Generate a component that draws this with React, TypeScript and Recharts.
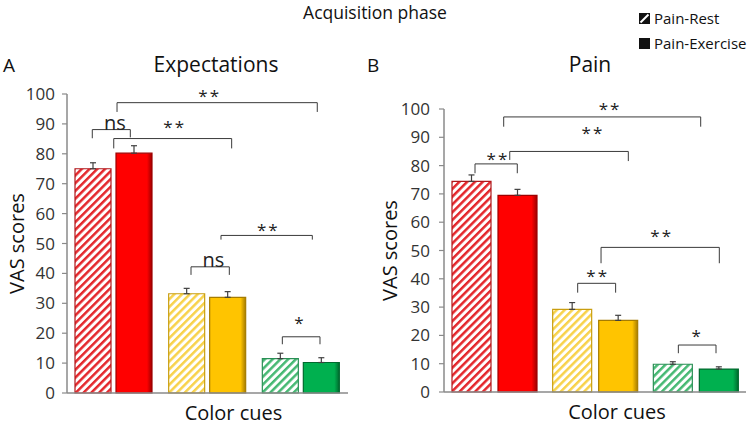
import React from 'react';
import { BarChart, Bar, XAxis, YAxis, Cell, ErrorBar, ReferenceLine, ReferenceDot, Label } from 'recharts';

// ---------- data ----------
const categories = ['Red', 'Yellow', 'Green'];
const yTicks = [0, 10, 20, 30, 40, 50, 60, 70, 80, 90, 100];

const expRest = [75, 33.2, 11.5];
const expRestErr = [2, 1.8, 1.8];
const expExercise = [80.2, 32, 10.2];
const expExerciseErr = [2.5, 1.9, 1.6];

const painRest = [74.4, 29.2, 9.8];
const painRestErr = [2.3, 2.4, 0.9];
const painExercise = [69.5, 25.3, 8.1];
const painExerciseErr = [2.1, 1.8, 0.8];

type Bracket = { x1: number; x2: number; y: number; y1: number; y2: number; text: string; tx: number; ty: number };

// bracket x in category units (0..3), y in VAS units
const expBrackets: Bracket[] = [
  { x1: 0.534, x2: 2.672, y: 97.1, y1: 94, y2: 94, text: '**', tx: 1.523, ty: 100.6 },
  { x1: 0.27, x2: 0.676, y: 88.1, y1: 85.2, y2: 85.5, text: 'ns', tx: 0.512, ty: 90.7 },
  { x1: 0.499, x2: 1.758, y: 85.1, y1: 81.8, y2: 81.8, text: '**', tx: 1.15, ty: 90.2 },
  { x1: 1.644, x2: 2.619, y: 52.7, y1: 51.3, y2: 51.3, text: '**', tx: 2.149, ty: 56 },
  { x1: 1.324, x2: 1.733, y: 42.2, y1: 39.5, y2: 39.5, text: 'ns', tx: 1.562, ty: 44.7 },
  { x1: 2.299, x2: 2.701, y: 18.8, y1: 16.3, y2: 16.3, text: '*', tx: 2.487, ty: 24.6 },
];

const painBrackets: Bracket[] = [
  { x1: 0.593, x2: 2.55, y: 97.2, y1: 93.75, y2: 93.75, text: '**', tx: 1.649, ty: 101.4 },
  { x1: 0.653, x2: 1.831, y: 85.0, y1: 82, y2: 81.6, text: '**', tx: 1.48, ty: 92.8 },
  { x1: 0.308, x2: 0.728, y: 80.6, y1: 77.3, y2: 77.3, text: '**', tx: 0.536, ty: 83.7 },
  { x1: 1.56, x2: 2.735, y: 51.1, y1: 45.5, y2: 45.5, text: '**', tx: 2.163, ty: 56.4 },
  { x1: 1.328, x2: 1.705, y: 38.4, y1: 35.1, y2: 35.1, text: '**', tx: 1.527, ty: 42.5 },
  { x1: 2.328, x2: 2.702, y: 16.6, y1: 13.7, y2: 13.7, text: '*', tx: 2.515, ty: 21.3 },
];

// ---------- styles ----------
const FONT = '"Open Sans", sans-serif';
const AXIS = '#8a8a8a';
const LINE = '#3a3a3a';
const palette = [
  { base: '#FF0000', dark: '#9E0000', stripe: '#E4262B', hatchStroke: '#B0181C' },
  { base: '#FFC400', dark: '#A67C00', stripe: '#F8D24A', hatchStroke: '#C99E10' },
  { base: '#00B04F', dark: '#006A2E', stripe: '#45B872', hatchStroke: '#2A8F55' },
];

const buildData = (rest: number[], restErr: number[], ex: number[], exErr: number[]) =>
  categories.map((c, i) => ({
    cue: c,
    rest: rest[i],
    restErr: [0, restErr[i]],
    exercise: ex[i],
    exerciseErr: [0, exErr[i]],
  }));

const expData = buildData(expRest, expRestErr, expExercise, expExerciseErr);
const painData = buildData(painRest, painRestErr, painExercise, painExerciseErr);

type PanelProps = {
  id: string;
  data: ReturnType<typeof buildData>;
  brackets: Bracket[];
  width: number;
  margin: { top: number; right: number; bottom: number; left: number };
  yAxisWidth: number;
  barSize: number;
  barGap: number;
  xAxisHeight: number;
  xTicks: boolean;
  yLabelOffset: number;
  xLabelDx: number;
  tickMargin: number;
};

function Panel(p: PanelProps) {
  const lines: React.ReactNode[] = [];
  p.brackets.forEach((b, i) => {
    const common = { xAxisId: 'u', stroke: LINE, strokeWidth: 1, ifOverflow: 'visible' as const };
    lines.push(<ReferenceLine key={`h${i}`} {...common} segment={[{ x: b.x1, y: b.y }, { x: b.x2, y: b.y }]} />);
    lines.push(<ReferenceLine key={`l${i}`} {...common} segment={[{ x: b.x1, y: b.y1 }, { x: b.x1, y: b.y }]} />);
    lines.push(<ReferenceLine key={`r${i}`} {...common} segment={[{ x: b.x2, y: b.y2 }, { x: b.x2, y: b.y }]} />);
    const star = b.text !== 'ns';
    lines.push(
      <ReferenceDot
        key={`t${i}`}
        xAxisId="u"
        x={b.tx}
        y={b.ty}
        r={0}
        fill="none"
        stroke="none"
        ifOverflow="visible"
        label={{
          value: b.text,
          position: 'center',
          dy: star ? 4 : 1,
          style: { fontSize: star ? 17 : 20, fill: '#222', fontFamily: FONT, letterSpacing: star ? 2 : 0 },
        }}
      />
    );
  });

  return (
    <BarChart
      width={p.width}
      height={426}
      data={p.data}
      margin={p.margin}
      barGap={p.barGap}
      barSize={p.barSize}
    >
      <defs>
        {palette.map((c, k) => (
          <pattern
            key={`hp${k}`}
            id={`${p.id}-hatch-${k}`}
            patternUnits="userSpaceOnUse"
            width={5.5}
            height={5.5}
            patternTransform="rotate(45)"
          >
            <rect width={5.5} height={5.5} fill="#ffffff" />
            <rect width={2.5} height={5.5} fill={c.stripe} />
          </pattern>
        ))}
        {palette.map((c, k) => (
          <linearGradient key={`sg${k}`} id={`${p.id}-solid-${k}`} x1="0" y1="0" x2="1" y2="0">
            <stop offset="0" stopColor={c.base} />
            <stop offset="0.86" stopColor={c.base} />
            <stop offset="1" stopColor={c.dark} />
          </linearGradient>
        ))}
      </defs>
      <XAxis
        xAxisId="u"
        dataKey="rest"
        type="number"
        domain={[0, 3]}
        ticks={[0, 1, 2, 3]}
        allowDataOverflow
        tick={false}
        tickLine={p.xTicks ? { stroke: AXIS, strokeWidth: 1.5 } : false}
        tickSize={5}
        axisLine={{ stroke: AXIS, strokeWidth: 1.5 }}
        height={p.xAxisHeight}
      >
        <Label
          value="Color cues"
          position="center"
          dx={p.xLabelDx}
          dy={3}
          style={{ fontSize: 20, fill: '#111', fontFamily: FONT }}
        />
      </XAxis>
      <XAxis dataKey="cue" hide height={0} />
      <YAxis
        domain={[0, 100]}
        ticks={yTicks}
        width={p.yAxisWidth}
        interval={0}
        tick={{ fill: '#333', fontSize: 17, fontFamily: FONT }}
        tickLine={{ stroke: AXIS, strokeWidth: 1.2 }}
        tickSize={5}
        tickMargin={p.tickMargin}
        axisLine={{ stroke: AXIS, strokeWidth: 1.5 }}
      >
        <Label
          value="VAS scores"
          angle={-90}
          position="insideLeft"
          offset={p.yLabelOffset}
          style={{ fontSize: 20, fill: '#111', fontFamily: FONT, textAnchor: 'middle' }}
        />
      </YAxis>
      <Bar dataKey="rest" isAnimationActive={false} strokeWidth={1.2}>
        {p.data.map((_, k) => (
          <Cell key={`r${k}`} fill={`url(#${p.id}-hatch-${k})`} stroke={palette[k].hatchStroke} />
        ))}
        <ErrorBar dataKey="restErr" width={3} stroke="#404040" strokeWidth={1.2} />
      </Bar>
      <Bar dataKey="exercise" isAnimationActive={false} strokeWidth={1.2}>
        {p.data.map((_, k) => (
          <Cell key={`e${k}`} fill={`url(#${p.id}-solid-${k})`} stroke={palette[k].dark} />
        ))}
        <ErrorBar dataKey="exerciseErr" width={3} stroke="#404040" strokeWidth={1.2} />
      </Bar>
      {lines}
    </BarChart>
  );
}

const textStyle = (size: number): React.CSSProperties => ({
  position: 'absolute',
  fontFamily: FONT,
  fontSize: size,
  lineHeight: 1,
  color: '#111',
  whiteSpace: 'nowrap',
});

export default function App() {
  return (
    <div style={{ position: 'absolute', left: 0, top: 0, width: 750, height: 426, background: '#fff', overflow: 'hidden' }}>
      <div style={{ ...textStyle(17.5), left: 0, width: 750, top: 4, textAlign: 'center' }}>Acquisition phase</div>

      <div style={{ ...textStyle(15), left: 639, top: 11 }}>
        <svg width={11} height={11} style={{ position: 'absolute', left: 0, top: 2 }}>
          <rect x={0} y={0} width={11} height={11} fill="#111" />
          <line x1={1.5} y1={9.5} x2={9.5} y2={1.5} stroke="#fff" strokeWidth={2} />
        </svg>
        <span style={{ position: 'absolute', left: 15, top: 0 }}>Pain-Rest</span>
      </div>
      <div style={{ ...textStyle(15), left: 639, top: 36 }}>
        <svg width={11} height={11} style={{ position: 'absolute', left: 0, top: 2 }}>
          <rect x={0} y={0} width={11} height={11} fill="#111" />
        </svg>
        <span style={{ position: 'absolute', left: 15, top: 0 }}>Pain-Exercise</span>
      </div>

      <div style={{ ...textStyle(19), left: 3, top: 56 }}>A</div>
      <div style={{ ...textStyle(19), left: 367, top: 56 }}>B</div>
      <div style={{ ...textStyle(21), left: 116, width: 200, top: 54, textAlign: 'center' }}>Expectations</div>
      <div style={{ ...textStyle(21), left: 490, width: 200, top: 54, textAlign: 'center' }}>Pain</div>

      <div style={{ position: 'absolute', left: 0, top: 0 }}>
        <Panel
          id="exp"
          data={expData}
          brackets={expBrackets}
          width={375}
          margin={{ top: 94, right: 27, bottom: 0, left: 0 }}
          yAxisWidth={67}
          barSize={36}
          barGap={5}
          xAxisHeight={33}
          xTicks={false}
          yLabelOffset={17}
          xLabelDx={26}
          tickMargin={7}
        />
      </div>
      <div style={{ position: 'absolute', left: 375, top: 0 }}>
        <Panel
          id="pain"
          data={painData}
          brackets={painBrackets}
          width={375}
          margin={{ top: 109, right: 4, bottom: 0, left: 0 }}
          yAxisWidth={69}
          barSize={39}
          barGap={7}
          xAxisHeight={34}
          xTicks={true}
          yLabelOffset={15}
          xLabelDx={22}
          tickMargin={9}
        />
      </div>
    </div>
  );
}
